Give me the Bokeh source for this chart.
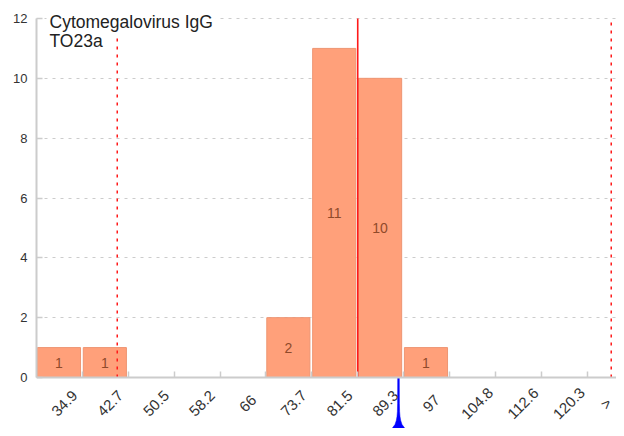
import numpy as np
from bokeh.plotting import figure
from bokeh.models import Range1d, FixedTicker, Label
from bokeh.embed import file_html
from bokeh.resources import INLINE
from bokeh.core.properties import value

# ---------------- data ----------------
title_line1 = "Cytomegalovirus IgG"
title_line2 = "TO23a"
bin_labels = ["34.9", "42.7", "50.5", "58.2", "66", "73.7", "81.5",
              "89.3", "97", "104.8", "112.6", "120.3", ">"]
edge_values = [34.9, 42.7, 50.5, 58.2, 66, 73.7, 81.5,
               89.3, 97, 104.8, 112.6, 120.3]
counts = [1, 1, 0, 0, 0, 2, 11, 10, 1, 0, 0, 0, 0]
limit_values = [40.8, 124.4]
target_value = 81.5
result_value = 88.4
y_ticks = [0, 2, 4, 6, 8, 10, 12]

# ---------------- helpers ----------------
step = (edge_values[-1] - edge_values[0]) / (len(edge_values) - 1)


def to_idx(v):
    return 1 + (v - edge_values[0]) / step


FONT = "Liberation Sans"
n_bins = len(counts)
Y_TOP = max(y_ticks)
FIG_W, FIG_H = 616, 428
LEFT, TOP, AXIS_Y, GRID_TOP = 36, 8, 377, 18
px_y = (AXIS_Y - GRID_TOP) / float(Y_TOP)
Y_MIN = -(FIG_H - AXIS_Y) / px_y
Y_MAX = Y_TOP + (GRID_TOP - TOP) / px_y
px_x = 45.875
X_END = (FIG_W - LEFT) / px_x

p = figure(width=FIG_W, height=FIG_H, output_backend="svg", toolbar_location=None,
           x_range=Range1d(0, X_END), y_range=Range1d(Y_MIN, Y_MAX),
           min_border_left=LEFT, min_border_right=0, min_border_top=TOP,
           min_border_bottom=0)
p.outline_line_color = None
p.background_fill_color = "white"
p.border_fill_color = "white"
p.xgrid.visible = False

p.yaxis.ticker = FixedTicker(ticks=y_ticks)
p.ygrid.ticker = FixedTicker(ticks=y_ticks)
p.ygrid.grid_line_color = "#cccccc"
p.ygrid.grid_line_dash = "3 5"
p.ygrid.grid_line_width = 1

# bars
idx = [i for i, c in enumerate(counts) if c > 0]
p.quad(left=[i + 0.02 for i in idx], right=[i + 0.96 for i in idx],
       bottom=0, top=[counts[i] for i in idx],
       fill_color="#FFA07A", line_color="#EE9572", line_width=1)
p.text(x=[i + 0.49 for i in idx], y=[counts[i] / 2 for i in idx],
       text=[str(counts[i]) for i in idx], text_align="center",
       text_baseline="middle", text_font=value(FONT), text_font_size="14px",
       text_color="#8f4a2a")

# reference lines
lim_x = [to_idx(v) for v in limit_values]
p.segment(x0=lim_x, x1=lim_x, y0=0, y1=Y_TOP, line_color="#ff1a1a",
          line_width=1.5, line_dash="3 5")
tx = to_idx(target_value)
p.segment(x0=[tx], x1=[tx], y0=0, y1=Y_TOP, line_color="#ff1a1a", line_width=1.6)

# result spike below the axis
spike_dx = [-6.5, -3.5, -2.2, -1.5, -1.1, -0.9, -0.8, 0.8, 0.9, 1.1, 1.5, 2.2, 3.5, 6.5]
spike_dy = [0, 4, 8, 12, 17, 25, 51, 51, 25, 17, 12, 8, 4, 0]
rx = to_idx(result_value)
p.patch(x=[rx + d / px_x for d in spike_dx], y=[Y_MIN + d / px_y for d in spike_dy],
        fill_color="#0000ff", line_color="#0000ff", line_width=0.5)

# axes
for ax in (p.xaxis[0], p.yaxis[0]):
    ax.axis_line_color = "#cccccc"
    ax.axis_line_width = 2
    ax.major_tick_line_color = "#cccccc"
    ax.major_tick_line_width = 1.5
    ax.major_tick_in = 6
    ax.major_tick_out = 0
    ax.minor_tick_line_color = None
    ax.major_label_text_font = FONT
    ax.major_label_text_color = "#333333"

p.yaxis.major_label_text_font_size = "13px"
p.yaxis.major_label_standoff = 9
p.yaxis.bounds = (0, Y_TOP)

# x axis: ticks on bin edges, labels centred under the bins
p.xaxis.fixed_location = 0
edge_ticks = list(range(1, n_bins))
p.xaxis.ticker = FixedTicker(ticks=edge_ticks)
p.xaxis.major_label_overrides = {t: "" for t in edge_ticks}

lab_x = [i + 0.5 for i in range(n_bins)]
lab_dx = [5] * (n_bins - 1) + [-4]
p.text(x=lab_x, y=0, text=bin_labels, x_offset=lab_dx, y_offset=26,
       angle=np.pi / 4, text_align="center", text_baseline="middle",
       text_font=value(FONT), text_font_size="15px", text_color="#333333")

# title labels
lab1 = Label(x=(49 - LEFT - 3) / px_x, y=Y_TOP + 9.4 / px_y,
             text=title_line1, text_font=FONT, text_font_size="17.5px",
             text_color="#222222", text_baseline="top",
             background_fill_color="white", background_fill_alpha=1.0, padding=3)
lab2 = Label(x=(49 - LEFT - 2) / px_x, y=Y_TOP - 10.5 / px_y,
             text=title_line2, text_font=FONT, text_font_size="17.5px",
             text_color="#222222", text_baseline="top", padding=2)
p.add_layout(lab1)
p.add_layout(lab2)

open("out.html", "w").write(file_html(p, INLINE))
